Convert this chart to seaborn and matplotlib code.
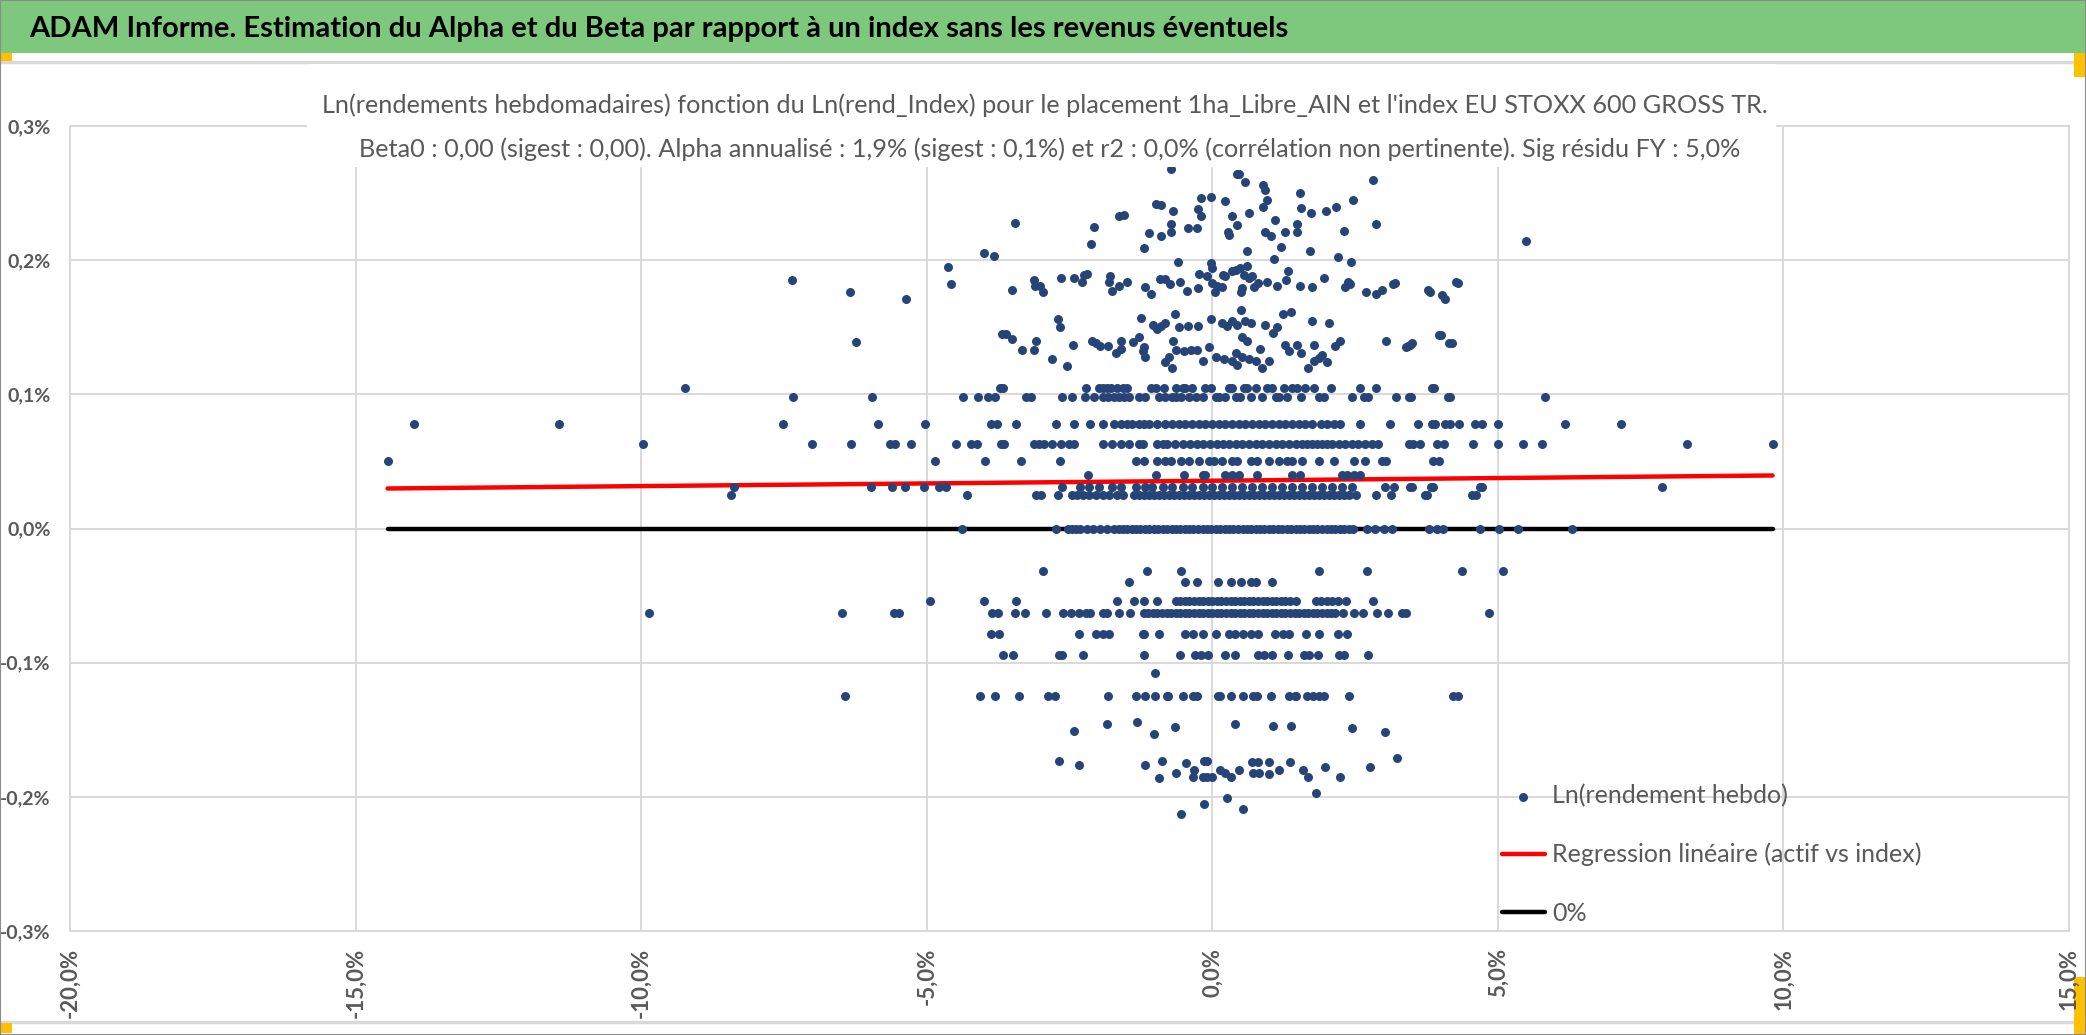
import matplotlib
matplotlib.use("Agg")
import matplotlib.pyplot as plt
from matplotlib.patches import Rectangle
from matplotlib.lines import Line2D
from matplotlib.ticker import FuncFormatter
import numpy as np
import pandas as pd
import seaborn as sns

# values in percent
# rows of points sharing (almost) the same weekly return
y_rows = [0.0, 0.025, 0.031, 0.040, 0.050, 0.063, 0.078, 0.098, 0.105,
          -0.032, -0.040, -0.054, -0.063, -0.079, -0.094, -0.125]

x_000 = [-4.39, -2.73, -2.53, -2.45, -2.38, -2.31, -2.2, -2.08, -1.96, -1.84,
         -1.72, -1.64, -1.57, -1.49, -1.41, -1.33, -1.26, -1.18, -1.1, -1.02, -0.95, -0.87,
         -0.79, -0.71, -0.64, -0.56, -0.48, -0.4, -0.33, -0.25, -0.17, -0.09, -0.02, 0.06,
         0.14, 0.22, 0.29, 0.37, 0.45, 0.53, 0.6, 0.68, 0.76, 0.84, 0.91, 0.99, 1.07, 1.15,
         1.22, 1.3, 1.38, 1.46, 1.53, 1.61, 1.69, 1.77, 1.84, 1.92, 2.0, 2.08, 2.15, 2.23,
         2.31, 2.39, 2.46, 2.71, 2.85, 3.0, 3.15, 3.79, 3.93, 4.04, 4.69, 5.02, 5.35, 6.29]
x_025 = [-8.42, -4.29, -3.09, -3.0, -2.71, -2.45, -2.36, -2.27, -2.16, -2.04, -1.92, -1.81,
         -1.66, -1.57, -1.37, -1.28, -1.19, -1.1, -1.02, -0.93, -0.84, -0.76, -0.67, -0.58,
         -0.5, -0.41, -0.32, -0.23, -0.15, -0.06, 0.03, 0.12, 0.2, 0.29, 0.38, 0.47, 0.55,
         0.64, 0.73, 0.82, 0.9, 0.99, 1.08, 1.17, 1.25, 1.34, 1.43, 1.52, 1.6, 1.69, 1.78,
         1.87, 1.95, 2.04, 2.13, 2.22, 2.3, 2.39, 2.51, 2.86, 3.13, 3.73, 3.76, 4.55, 4.61]
x_031 = [-8.38, -5.97, -5.6, -5.38, -5.05, -4.79, -4.66, -2.63, -2.32, -2.16, -1.98, -1.75,
         -1.6, -1.34, -1.17, -1.05, -0.87, -0.7, -0.52, -0.35, -0.17, 0.0, 0.17, 0.35, 0.52,
         0.7, 0.87, 1.05, 1.22, 1.4, 1.57, 1.75, 1.92, 2.1, 2.27, 2.45, 3.03, 3.18, 3.47,
         3.5, 3.83, 3.86, 4.69, 4.72, 7.87]
x_040 = [-2.17, -0.98, -0.5, -0.17, -0.12, 0.23, 0.35, 0.47, 0.79, 1.4, 1.54, 2.27, 2.36,
         2.48, 2.59]
x_050 = [-14.44, -4.86, -3.98, -3.35, -2.67, -1.34, -1.19, -0.96, -0.82, -0.73, -0.55,
         -0.41, -0.23, -0.06, 0.03, 0.17, 0.35, 0.44, 0.67, 0.79, 0.99, 1.17, 1.31, 1.4,
         1.57, 1.86, 2.13, 2.48, 2.68, 2.97, 3.04, 3.86, 3.97]
x_063 = [-9.96, -7.0, -6.33, -5.65, -5.56, -5.28, -4.48, -4.22, -4.12, -3.7, -3.64, -3.12,
         -3.03, -2.94, -2.8, -2.65, -2.51, -2.42, -1.92, -1.75, -1.6, -1.46, -1.28, -1.22,
         -0.96, -0.87, -0.79, -0.66, -0.52, -0.39, -0.26, -0.17, -0.04, 0.09, 0.19, 0.29,
         0.41, 0.52, 0.64, 0.76, 0.87, 0.99, 1.11, 1.22, 1.34, 1.46, 1.57, 1.66, 1.75, 1.84,
         1.92, 2.01, 2.1, 2.21, 2.33, 2.45, 2.56, 2.68, 2.8, 2.91, 3.44, 3.51, 3.64, 3.93,
         4.06, 4.56, 5.0, 5.44, 5.77, 8.32, 9.81]
x_078 = [-13.97, -11.43, -7.52, -5.85, -5.03, -3.87, -3.77, -3.44, -2.73, -2.42, -2.14,
         -1.92, -1.72, -1.6, -1.49, -1.4, -1.28, -1.19, -1.11, -0.96, -0.82, -0.7, -0.58,
         -0.47, -0.35, -0.23, -0.12, 0.0, 0.12, 0.23, 0.35, 0.47, 0.58, 0.7, 0.82, 0.93,
         1.05, 1.17, 1.28, 1.4, 1.52, 1.63, 1.75, 1.9, 2.01, 2.13, 2.24, 2.59, 3.12, 3.6,
         3.85, 3.9, 4.07, 4.16, 4.32, 4.6, 4.72, 5.0, 6.17, 7.15]
x_098 = [-7.34, -5.96, -4.37, -4.1, -3.92, -3.8, -3.26, -3.18, -2.63, -2.46, -2.23, -2.07,
         -1.92, -1.82, -1.72, -1.63, -1.54, -1.46, -1.28, -1.17, -0.93, -0.82, -0.71, -0.64,
         -0.55, -0.41, -0.29, -0.17, 0.06, 0.12, 0.23, 0.41, 0.48, 0.67, 0.87, 1.11, 1.17,
         1.31, 1.55, 1.86, 1.95, 2.45, 2.65, 2.73, 3.21, 3.44, 3.48, 4.13, 4.16, 5.83]
x_105 = [-9.24, -3.71, -3.67, -2.21, -1.98, -1.92, -1.84, -1.78, -1.66, -1.57, -1.5, -1.08,
         -0.99, -0.85, -0.64, -0.52, -0.48, -0.35, -0.12, -0.03, 0.29, 0.35, 0.55, 0.61,
         0.76, 0.96, 1.05, 1.25, 1.4, 1.49, 1.63, 1.78, 2.07, 2.59, 2.87, 3.85, 3.88]
x_m032 = [-2.96, -1.15, -0.55, 1.87, 2.71, 4.37, 5.09]
x_m040 = [-1.46, -0.48, -0.27, 0.1, 0.33, 0.5, 0.67, 0.77, 1.05]
x_m054 = [-4.94, -4.0, -3.44, -1.67, -1.37, -1.2, -0.97, -0.64, -0.56, -0.48, -0.4, -0.32,
          -0.24, -0.16, -0.08, 0.0, 0.08, 0.16, 0.24, 0.32, 0.4, 0.48, 0.56, 0.64, 0.72,
          0.8, 0.88, 0.96, 1.04, 1.12, 1.2, 1.28, 1.36, 1.47, 1.81, 1.9, 2.0, 2.1, 2.2,
          2.34, 2.81]
x_m063 = [-9.86, -6.49, -5.57, -5.49, -3.85, -3.76, -3.45, -3.28, -2.91, -2.62, -2.48,
          -2.34, -2.21, -2.14, -1.91, -1.84, -1.64, -1.44, -1.2, -1.12, -1.04, -0.96, -0.88,
          -0.8, -0.72, -0.64, -0.56, -0.48, -0.4, -0.32, -0.24, -0.16, -0.08, 0.0, 0.08,
          0.16, 0.24, 0.32, 0.4, 0.48, 0.56, 0.64, 0.72, 0.8, 0.88, 0.96, 1.04, 1.12, 1.2,
          1.28, 1.36, 1.44, 1.52, 1.6, 1.68, 1.76, 1.84, 1.92, 2.0, 2.08, 2.14, 2.28, 2.48,
          2.64, 2.88, 3.08, 3.33, 3.39, 4.84]
x_m079 = [-3.87, -3.73, -2.34, -2.04, -1.91, -1.81, -1.22, -1.19, -0.94, -0.47, -0.33,
          -0.17, 0.07, 0.3, 0.4, 0.54, 0.67, 0.8, 1.1, 1.24, 1.34, 1.64, 1.86, 2.2, 2.36]
x_m094 = [-3.67, -3.49, -2.68, -2.64, -2.26, -1.2, -0.57, -0.3, -0.2, -0.07, 0.23, 0.4,
          0.8, 0.9, 1.04, 1.33, 1.61, 1.69, 1.85, 2.21, 2.31, 2.72]
x_m125 = [-6.43, -4.07, -3.8, -3.39, -2.88, -2.76, -1.82, -1.33, -1.17, -1.0, -0.8, -0.77,
          -0.52, -0.33, -0.27, 0.1, 0.13, 0.33, 0.54, 0.72, 0.79, 1.02, 1.34, 1.44, 1.47,
          1.66, 1.77, 1.87, 1.95, 2.4, 4.21, 4.3]

# scattered points (x, y) in the upper cloud
upper_pts = [(-0.73, 0.268), (0.43, 0.264), (0.47, 0.264), (0.58, 0.258), (0.89, 0.256),
             (0.92, 0.252), (2.81, 0.26), (-0.03, 0.247), (-0.2, 0.246), (0.22, 0.244),
             (0.89, 0.24), (0.96, 0.245), (1.53, 0.25), (2.46, 0.245), (-0.99, 0.242),
             (-0.9, 0.241), (-0.69, 0.237), (-0.25, 0.238), (-0.2, 0.233), (0.64, 0.235),
             (0.34, 0.233), (0.44, 0.226), (1.56, 0.239), (1.72, 0.235), (1.99, 0.237),
             (2.16, 0.24), (1.1, 0.23), (1.49, 0.227), (1.49, 0.221), (-3.46, 0.228),
             (-1.63, 0.233), (-1.54, 0.234), (-2.07, 0.225), (-0.72, 0.227), (-0.72, 0.221),
             (-1.1, 0.22), (-0.43, 0.224), (-0.26, 0.224), (-0.89, 0.218), (0.28, 0.221),
             (0.29, 0.219), (0.93, 0.221), (1.02, 0.218), (1.27, 0.221), (2.31, 0.222),
             (2.87, 0.227), (-2.12, 0.212), (-1.19, 0.209), (1.21, 0.21), (0.6, 0.207),
             (1.71, 0.207), (1.08, 0.201), (-0.6, 0.199), (2.2, 0.202), (2.43, 0.199),
             (-0.03, 0.198), (0.0, 0.194), (0.61, 0.196), (0.34, 0.192), (0.48, 0.194),
             (0.42, 0.193), (1.33, 0.192), (-0.24, 0.19), (-0.1, 0.188), (0.55, 0.189),
             (0.64, 0.187), (0.7, 0.188), (0.19, 0.189), (-1.79, 0.188), (-1.81, 0.184),
             (1.96, 0.187), (2.37, 0.184), (2.41, 0.182), (3.2, 0.183), (4.27, 0.184),
             (-2.65, 0.187), (-2.42, 0.187), (-2.24, 0.189), (-2.28, 0.184), (-2.2, 0.19),
             (-3.12, 0.185), (-3.1, 0.181), (-3.02, 0.181), (-2.96, 0.176), (-3.51, 0.178),
             (-1.63, 0.181), (-1.5, 0.184), (-1.75, 0.177), (-0.92, 0.186), (-0.82, 0.186),
             (-0.74, 0.182), (-0.57, 0.184), (-1.18, 0.18), (-1.07, 0.175), (-0.45, 0.177),
             (-0.25, 0.179), (-0.01, 0.183), (0.09, 0.181), (0.05, 0.176), (0.17, 0.18),
             (0.23, 0.188), (0.51, 0.176), (0.52, 0.179), (0.73, 0.18), (0.8, 0.183),
             (0.96, 0.184), (1.14, 0.181), (1.29, 0.185), (1.53, 0.181), (1.74, 0.18),
             (2.33, 0.18), (2.69, 0.176), (2.86, 0.175), (2.97, 0.178), (3.16, 0.182),
             (3.78, 0.178), (4.03, 0.174), (5.49, 0.214), (4.3, 0.183), (3.81, 0.176),
             (4.07, 0.171), (-7.35, 0.185), (-6.35, 0.176), (-5.37, 0.171), (-4.62, 0.195),
             (-4.57, 0.182), (-3.99, 0.205), (-3.82, 0.203)]

# scattered points between 0.12 % and 0.165 %
middle_pts = [(-3.62, 0.145), (-3.51, 0.141), (-3.34, 0.133), (-3.13, 0.133), (-3.09, 0.14),
              (-2.81, 0.126), (-2.7, 0.156), (-2.67, 0.15), (-2.55, 0.121), (-2.44, 0.137),
              (-2.11, 0.14), (-2.04, 0.138), (-1.97, 0.136), (-1.82, 0.136), (-1.69, 0.131),
              (-1.6, 0.134), (-1.6, 0.14), (-1.38, 0.139), (-1.24, 0.157), (-1.28, 0.143),
              (-1.19, 0.135), (-1.17, 0.128), (-1.22, 0.132), (-1.04, 0.152), (-0.96, 0.149),
              (-0.82, 0.153), (-0.89, 0.151), (-0.65, 0.16), (-0.58, 0.15), (-0.43, 0.151),
              (-0.25, 0.151), (-0.69, 0.14), (-0.82, 0.124), (-0.71, 0.12), (-0.76, 0.128),
              (-0.64, 0.133), (-0.5, 0.132), (-0.38, 0.133), (-0.26, 0.133), (-0.17, 0.125),
              (-0.06, 0.135), (-0.03, 0.156), (0.06, 0.128), (0.17, 0.153), (0.26, 0.151),
              (0.35, 0.155), (0.44, 0.152), (0.57, 0.155), (0.67, 0.153), (0.5, 0.163),
              (0.2, 0.126), (0.34, 0.125), (0.44, 0.122), (0.41, 0.131), (0.52, 0.128),
              (0.64, 0.126), (0.76, 0.125), (0.87, 0.12), (0.99, 0.125), (0.52, 0.143),
              (0.61, 0.14), (0.83, 0.134), (0.93, 0.152), (1.14, 0.15), (1.06, 0.146),
              (1.24, 0.16), (1.38, 0.161), (1.28, 0.137), (1.35, 0.132), (1.49, 0.137),
              (1.55, 0.131), (1.68, 0.12), (1.78, 0.125), (1.86, 0.127), (1.92, 0.129),
              (2.01, 0.124), (1.78, 0.137), (1.74, 0.155), (2.05, 0.153), (2.14, 0.136),
              (2.24, 0.14), (3.05, 0.14), (3.39, 0.135), (3.47, 0.137), (3.97, 0.144),
              (4.15, 0.138), (3.42, 0.136), (3.5, 0.138), (4.0, 0.144), (4.19, 0.138),
              (-6.24, 0.139), (-3.68, 0.145)]

# scattered points below -0.1 %
lower_pts = [(-1.0, -0.108), (-2.42, -0.151), (-1.84, -0.146), (-1.31, -0.144),
             (-1.02, -0.153), (-0.66, -0.148), (0.4, -0.146), (1.06, -0.147), (1.37, -0.147),
             (2.45, -0.149), (3.03, -0.152), (-2.69, -0.173), (-2.33, -0.176), (-1.17, -0.176),
             (-0.88, -0.173), (-0.94, -0.186), (-0.64, -0.182), (-0.46, -0.175), (-0.33, -0.185),
             (-0.17, -0.185), (-0.1, -0.185), (0.0, -0.185), (-0.32, -0.18), (-0.15, -0.173),
             (-0.1, -0.173), (0.13, -0.18), (0.23, -0.182), (0.33, -0.185), (0.47, -0.18),
             (0.7, -0.174), (0.8, -0.174), (1.0, -0.174), (0.72, -0.182), (0.82, -0.182),
             (1.0, -0.183), (1.17, -0.18), (1.36, -0.174), (1.59, -0.18), (1.67, -0.185),
             (1.98, -0.178), (2.23, -0.185), (2.76, -0.178), (3.23, -0.171), (1.81, -0.197),
             (0.25, -0.201), (-0.15, -0.205), (0.53, -0.209), (-0.55, -0.213)]

# regression (percent units)
reg_alpha = 0.0356
reg_beta = 0.0004

main_title = "ADAM Informe. Estimation du Alpha et du Beta par rapport à un index sans les revenus éventuels"
chart_title_1 = ("Ln(rendements hebdomadaires) fonction du Ln(rend_Index) pour le placement "
                 "1ha_Libre_AIN et l'index EU STOXX 600 GROSS TR.")
chart_title_2 = ("Beta0 : 0,00 (sigest : 0,00). Alpha annualisé : 1,9% (sigest : 0,1%) et r2 : "
                 "0,0% (corrélation non pertinente). Sig résidu FY : 5,0%")
lab_points = "Ln(rendement hebdo)"
lab_reg = "Regression linéaire (actif vs index)"
lab_zero = "0%"

# build the table of points
row_lists = [x_000, x_025, x_031, x_040, x_050, x_063, x_078, x_098, x_105,
             x_m032, x_m040, x_m054, x_m063, x_m079, x_m094, x_m125]
rows = []
for yv, xs in zip(y_rows, row_lists):
    for xv in xs:
        rows.append([xv, yv])
for xv, yv in upper_pts + middle_pts + lower_pts:
    rows.append([xv, yv])
df = pd.DataFrame(rows, columns=["index", "actif"])

x_lo, x_hi = df["index"].min(), df["index"].max()
line_x = [x_lo, x_hi]
reg_df = pd.DataFrame({"index": line_x, "actif": [reg_alpha + reg_beta * v for v in line_x]})
zero_df = pd.DataFrame({"index": line_x, "actif": [0.0, 0.0]})

sns.set_style("white")
plt.rcParams["font.family"] = ["Lato", "DejaVu Sans"]

W, H = 2086, 1035
fig = plt.figure(figsize=(W / 100, H / 100), dpi=100)
fig.patch.set_facecolor("white")

gray = "#595959"
grid_c = "#D9D9D9"

# header band
fig.patches.append(Rectangle((0, 1 - 53 / H), 1, 53 / H, transform=fig.transFigure,
                             facecolor="#7DC87D", edgecolor="none", zorder=-2))
fig.text(29 / W, 1 - 29 / H, main_title, fontsize=21, fontweight="bold", color="black",
         va="center", ha="left")
for y0 in (62, 1022):
    fig.add_artist(Line2D([0, 1], [1 - y0 / H, 1 - y0 / H], transform=fig.transFigure,
                          color=grid_c, lw=2.5, zorder=-2))
# selection handles
for (x0, y0, w, h) in [(0, 53, 12, 8), (2074, 53, 12, 24), (0, 1023, 12, 10), (2074, 977, 12, 58)]:
    fig.patches.append(Rectangle((x0 / W, 1 - (y0 + h) / H), w / W, h / H,
                                 transform=fig.transFigure, facecolor="#FFC000",
                                 edgecolor="none", zorder=-1))
fig.patches.append(Rectangle((0, 0), 1, 1, transform=fig.transFigure, facecolor="none",
                             edgecolor="#8C8C8C", lw=1.5, zorder=5))

ax = fig.add_axes([70 / W, 1 - 931 / H, 1999 / W, 805 / H])
sns.lineplot(data=zero_df, x="index", y="actif", ax=ax, color="black", lw=3.2,
             label=lab_zero, zorder=2)
sns.lineplot(data=reg_df, x="index", y="actif", ax=ax, color="#FF0000", lw=3.2,
             label=lab_reg, zorder=2)
sns.scatterplot(data=df, x="index", y="actif", ax=ax, color="#264478", s=42, linewidth=0,
                label=lab_points, zorder=3)

ax.set_xlim(-20, 15)
ax.set_ylim(-0.3, 0.3)
ax.set_xticks(np.arange(-20, 15.1, 5))
ax.set_yticks(np.round(np.arange(-0.3, 0.31, 0.1), 1))
ax.xaxis.set_major_formatter(FuncFormatter(lambda v, p: f"{round(v, 1) + 0.0:.1f}%".replace(".", ",")))
ax.yaxis.set_major_formatter(FuncFormatter(lambda v, p: f"{round(v, 1) + 0.0:.1f}%".replace(".", ",")))
ax.grid(True, color=grid_c, lw=1.4)
ax.set_axisbelow(True)
for s in ax.spines.values():
    s.set_color(grid_c)
    s.set_linewidth(1.4)
ax.tick_params(length=0)
ax.tick_params(axis="x", pad=12, labelsize=16, labelcolor=gray, labelrotation=90)
ax.tick_params(axis="y", pad=14, labelsize=14, labelcolor=gray)
for t in ax.get_xticklabels() + ax.get_yticklabels():
    t.set_fontweight("bold")
ax.set_xlabel("")
ax.set_ylabel("")

# chart title on a white box over the plot top
fig.patches.append(Rectangle((307 / W, 1 - 167 / H), (1776 - 307) / W, (167 - 64) / H,
                             transform=fig.transFigure, facecolor="white", edgecolor="none",
                             zorder=3))
fig.text(1045 / W, 1 - 105 / H, chart_title_1, fontsize=18.2, color=gray, ha="center",
         va="center", zorder=4)
fig.text(1050 / W, 1 - 149 / H, chart_title_2, fontsize=18.2, color=gray, ha="center",
         va="center", zorder=4)

handles, labels = ax.get_legend_handles_labels()
order = [labels.index(lab_points), labels.index(lab_reg), labels.index(lab_zero)]
leg = ax.legend([handles[i] for i in order], [labels[i] for i in order],
                loc="upper left", bbox_to_anchor=(1502 / W, 1 - 784 / H),
                bbox_transform=fig.transFigure, frameon=False, fontsize=18,
                borderpad=0, borderaxespad=0, handlelength=1.7, handletextpad=0.3,
                labelspacing=1.42, markerscale=1.0)
for t in leg.get_texts():
    t.set_color(gray)

fig.savefig("out.png", dpi=100)
